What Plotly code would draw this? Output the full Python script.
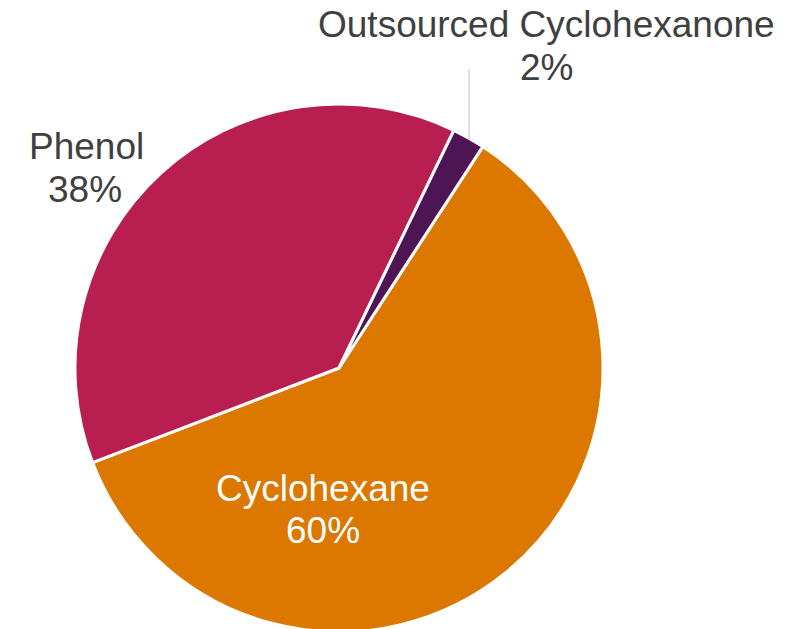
import plotly.graph_objects as go

labels = ["Cyclohexane", "Phenol", "Outsourced Cyclohexanone"]
values = [60, 38, 2]
colors = ["#DC7800", "#B81F50", "#4E1554"]

W, H = 802, 629
OFF = 8  # page body margin

def px(x):
    return (x - OFF) / W

def py(y):
    return 1 - (y - OFF) / H

fig = go.Figure(go.Pie(
    labels=labels,
    values=values,
    sort=False,
    direction="clockwise",
    rotation=33,
    textinfo="none",
    hoverinfo="label+percent",
    marker=dict(colors=colors, line=dict(color="white", width=3)),
    domain=dict(x=[px(75), px(603)], y=[py(632), py(104)]),
    showlegend=False,
))

total = sum(values)
pct = [f"{round(v * 100 / total)}%" for v in values]

# label positions (pixel centers of each text line)
label_pos = {
    "Cyclohexane": ((323, 489), (323, 530), "white"),
    "Phenol": ((86, 146), (85, 189), "#404040"),
    "Outsourced Cyclohexanone": ((546, 25), (546, 68), "#404040"),
}

annotations = []
for lab, p in zip(labels, pct):
    (x1, y1), (x2, y2), col = label_pos[lab]
    for txt, (x, y) in ((lab, (x1, y1)), (p, (x2, y2))):
        annotations.append(dict(
            text=txt, x=px(x), y=py(y), xref="paper", yref="paper",
            xanchor="center", yanchor="middle", showarrow=False,
            borderpad=0,
            font=dict(family="Liberation Sans, Arial, sans-serif", size=37, color=col),
        ))

fig.update_layout(
    width=W, height=H,
    margin=dict(l=0, r=0, t=0, b=0),
    paper_bgcolor="white",
    plot_bgcolor="white",
    annotations=annotations,
    shapes=[dict(type="line", xref="paper", yref="paper",
                 x0=px(469), x1=px(469), y0=py(69), y1=py(140),
                 line=dict(color="#BFBFBF", width=1))],
)

fig.write_html("out.html")
